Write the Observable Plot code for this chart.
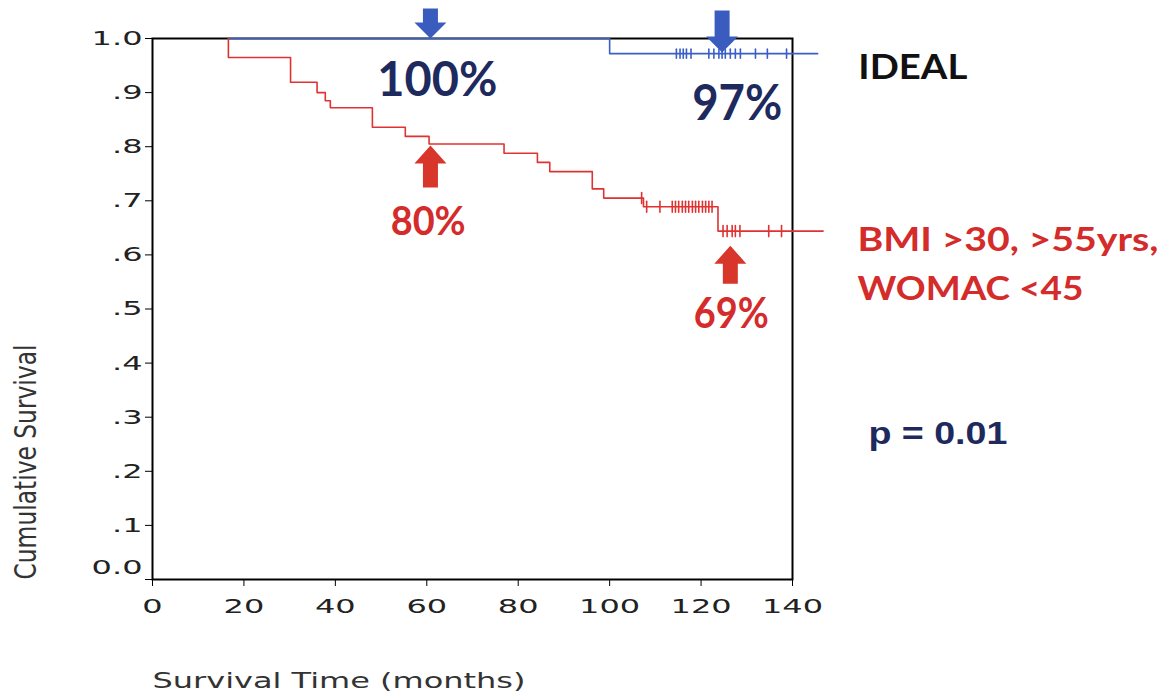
<!DOCTYPE html>
<html><head><meta charset="utf-8">
<script src="https://cdn.jsdelivr.net/npm/d3@7"></script>
<script src="https://cdn.jsdelivr.net/npm/@observablehq/plot@0.6"></script>
<style>html,body{margin:0;padding:0;background:#fff;}</style>
</head><body><div id="chart"></div>
<script>
// ---- data ----
const xTicks = [0,20,40,60,80,100,120,140];
const yTicks = [0,0.1,0.2,0.3,0.4,0.5,0.6,0.7,0.8,0.9,1.0];
const yTickLabels = ["0.0",".1",".2",".3",".4",".5",".6",".7",".8",".9","1.0"];
const xTitle = "Survival Time (months)";
const yTitle = "Cumulative Survival";

// BMI >30, >55yrs, WOMAC <45 group (red): step times and survival after each step
const redTimes = [16.6,16.6,30.2,36.0,37.8,38.9,48.1,55.3,60.5,76.9,84.2,86.9,96.2,98.7,107.4,123.7,146.7];
const redSurv  = [1.000,0.965,0.919,0.900,0.885,0.872,0.836,0.819,0.805,0.788,0.771,0.754,0.722,0.705,0.689,0.644,0.644];
// IDEAL group (blue)
const blueTimes = [16.6,100.0,145.5];
const blueSurv  = [1.000,0.972,0.972];

// censored observations (months)
const blueCensor = [114.6,115.4,116.1,116.8,117.8,121.7,122.8,123.9,124.6,125.3,126.4,127.5,128.6,131.9,134.5,138.7];
const redCensor  = [107.0,108.1,111.0,113.7,114.4,115.1,115.9,116.6,117.3,118.1,118.8,119.5,120.3,121.0,121.7,122.4,124.8,125.7,126.8,127.5,128.5,134.8,137.6];

// annotation arrows (tip position in data units)
const arrowX   = [60.8, 124.6, 60.8, 126.4];
const arrowY   = [1.000, 0.974, 0.802, 0.617];
const arrowDir = ["down","down","up","up"];
const arrowLen = [30, 42, 42, 38];
const arrowGrp = ["blue","blue","red","red"];

// percentage labels
const pctText = ["100%","97%","80%","69%"];
const pctX    = [62.3, 127.9, 60.3, 126.6];
const pctY    = [0.922, 0.879, 0.660, 0.490];
const pctGrp  = ["navy","navy","red","red"];
const pctSize = [48, 50, 40, 42];

// group labels
const grpText = ["IDEAL","BMI >30, >55yrs,","WOMAC <45"];
const grpX    = [154.4, 154.2, 154.2];
const grpY    = [0.945, 0.626, 0.537];
const grpCol  = ["black","red","red"];
const pText = "p = 0.01", pX = 156.6, pY = 0.268;

// ---- styling ----
const C = {blue:"#3b5fc6", blueArrow:"#3a5cbf", red:"#e03232", redArrow:"#d8352b", navy:"#1e2a5e", redText:"#d42b2b", black:"#111"};
const widthTargets = {"100%":120,"97%":90,"80%":75,"69%":75,"IDEAL":109,"BMI >30, >55yrs,":301,"WOMAC <45":226,"p = 0.01":139};

const red = redTimes.map((t,i)=>({t, s:redSurv[i]}));
const blue = blueTimes.map((t,i)=>({t, s:blueSurv[i]}));
const survAt = (t) => { let s = redSurv[0]; redTimes.forEach((tt,i)=>{ if (tt <= t) s = redSurv[i]; }); return s; };
const redC = redCensor.map(t=>({t, s:survAt(t)}));
const blueC = blueCensor.map(t=>({t, s:blueSurv[1]}));

const tickShape = {draw(ctx, l){ ctx.moveTo(0,0); ctx.lineTo(0,-l); }};
const blockArrow = (headH, headW, shaftW) => ({draw(ctx, l){
  const hw=headW/2, sw=shaftW/2, b=-(l-headH);
  ctx.moveTo(-sw,0); ctx.lineTo(-sw,b); ctx.lineTo(-hw,b); ctx.lineTo(0,-l);
  ctx.lineTo(hw,b); ctx.lineTo(sw,b); ctx.lineTo(sw,0); ctx.closePath();
}});

const arrowMarks = arrowX.map((x,i)=>Plot.vector([{x, y:arrowY[i]}], {
  x:"x", y:"y", length: arrowLen[i], rotate: arrowDir[i]==="down"?180:0, anchor:"end",
  shape: blockArrow(arrowDir[i]==="down" ? 16 : 18, 32, 15),
  fill: arrowGrp[i]==="blue" ? C.blueArrow : C.redArrow, stroke:"none"
}));

const pctMarks = pctText.map((txt,i)=>Plot.text([txt], {
  x: ()=>pctX[i], y: ()=>pctY[i], text: d=>d, fontSize: pctSize[i], fontWeight: 700,
  fontFamily: "Lato, 'Open Sans', sans-serif", fill: pctGrp[i]==="navy" ? C.navy : C.redText, ariaLabel: ()=>"annotation"
}));
const grpMarks = grpText.map((txt,i)=>Plot.text([txt], {
  x: ()=>grpX[i], y: ()=>grpY[i], text: d=>d, fontSize: i===0 ? 35 : 33, fontWeight: 700, textAnchor: "start",
  fontFamily: "Lato, 'Open Sans', sans-serif", fill: grpCol[i]==="black" ? C.black : C.redText, ariaLabel: ()=>"annotation"
}));

const plot = Plot.plot({
  width: 1168, height: 697,
  marginLeft: 152, marginRight: 376, marginTop: 38, marginBottom: 118,
  x: {domain: [0,140]},
  y: {domain: [0,1]},
  style: {background: "#fff", fontFamily: "'DejaVu Sans', sans-serif", overflow: "visible"},
  marks: [
    Plot.axisY({ticks: yTicks, tickFormat: d => d === 0 ? "" : yTickLabels[yTicks.indexOf(d)], tickSize: 7, tickPadding: 3, fontSize: 20, color: "#222", stroke: "#000", label: null}),
    Plot.text([0], {y: d=>d, text: d=>yTickLabels[yTicks.indexOf(d)], frameAnchor: "left", dx: -10, dy: -12, textAnchor: "end", fontSize: 20, fill: "#222", ariaLabel: ()=>"ytick0"}),
    Plot.axisX({ticks: xTicks, tickSize: 7, tickPadding: 12, fontSize: 20, color: "#222", stroke: "#000", label: null}),
    Plot.text([xTitle], {frameAnchor: "bottom-left", dy: 108, textAnchor: "start", fontSize: 21, fill: "#333", ariaLabel: ()=>"x-title"}),
    Plot.text([yTitle], {frameAnchor: "bottom-left", dx: -139, rotate: -90, textAnchor: "start", lineAnchor: "top", fontSize: 31, fill: "#333", ariaLabel: ()=>"y-title"}),
    Plot.frame({stroke: "#000", strokeWidth: 2}),
    Plot.line(blue, {x: "t", y: "s", curve: "step-after", stroke: C.blue, strokeWidth: 1.6}),
    Plot.line(red, {x: "t", y: "s", curve: "step-after", stroke: C.red, strokeWidth: 1.6}),
    Plot.vector(blueC, {x: "t", y: "s", length: 9, anchor: "middle", shape: tickShape, stroke: C.blue, strokeWidth: 1.6}),
    Plot.vector(redC, {x: "t", y: "s", length: 11, anchor: "middle", shape: tickShape, stroke: C.red, strokeWidth: 1.6}),
    ...arrowMarks,
    ...pctMarks,
    ...grpMarks,
    Plot.text([pText], {x: ()=>pX, y: ()=>pY, text: d=>d, fontSize: 31, fontWeight: 700, textAnchor: "start",
      fontFamily: "'Liberation Sans', Arial, sans-serif", fill: C.navy, ariaLabel: ()=>"annotation"})
  ]
});
document.getElementById("chart").append(plot);

const fit = (t, L) => { t.setAttribute("textLength", L); t.setAttribute("lengthAdjust", "spacingAndGlyphs"); };
plot.querySelectorAll('g[aria-label="y-axis tick label"] text, g[aria-label="x-axis tick label"] text, text[aria-label="ytick0"]').forEach(t => {
  const L = t.getComputedTextLength(); if (L > 0) fit(t, L * 1.6);
});
plot.querySelectorAll('text[aria-label="x-title"]').forEach(t => fit(t, 373));
plot.querySelectorAll('text[aria-label="y-title"]').forEach(t => fit(t, 235));
plot.querySelectorAll('text[aria-label="annotation"]').forEach(t => {
  const w = widthTargets[t.textContent]; if (w) fit(t, w);
});
</script></body></html>
